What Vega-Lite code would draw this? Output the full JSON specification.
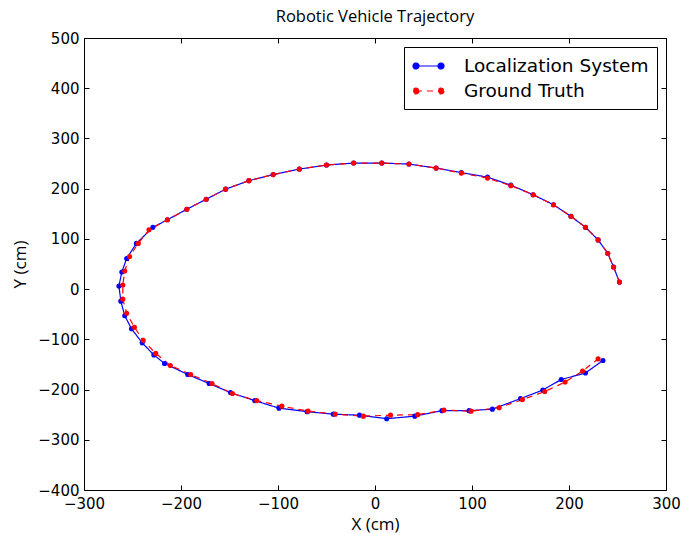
{
  "$schema": "https://vega.github.io/schema/vega-lite/v6.json",
  "autosize": "none",
  "width": 582,
  "height": 452,
  "padding": {"left": 84, "top": 38, "right": 15, "bottom": 43},
  "background": "white",
  "title": {"text": "Robotic Vehicle Trajectory", "font": "Open Sans", "fontSize": 16.5, "fontWeight": "normal", "color": "black", "offset": 6},
  "data": {"values": [
    {"series":"Localization System","i":1,"x":252,"y":14},
    {"series":"Localization System","i":2,"x":246,"y":44},
    {"series":"Localization System","i":3,"x":240,"y":71},
    {"series":"Localization System","i":4,"x":230,"y":98},
    {"series":"Localization System","i":5,"x":217,"y":123},
    {"series":"Localization System","i":6,"x":202,"y":145},
    {"series":"Localization System","i":7,"x":184,"y":168},
    {"series":"Localization System","i":8,"x":163,"y":188},
    {"series":"Localization System","i":9,"x":140,"y":207},
    {"series":"Localization System","i":10,"x":116,"y":223},
    {"series":"Localization System","i":11,"x":89,"y":232},
    {"series":"Localization System","i":12,"x":63,"y":241},
    {"series":"Localization System","i":13,"x":35,"y":249},
    {"series":"Localization System","i":14,"x":7,"y":251},
    {"series":"Localization System","i":15,"x":-22,"y":251},
    {"series":"Localization System","i":16,"x":-50,"y":247},
    {"series":"Localization System","i":17,"x":-78,"y":239},
    {"series":"Localization System","i":18,"x":-105,"y":228},
    {"series":"Localization System","i":19,"x":-130,"y":216},
    {"series":"Localization System","i":20,"x":-154,"y":199},
    {"series":"Localization System","i":21,"x":-174,"y":179},
    {"series":"Localization System","i":22,"x":-194,"y":159},
    {"series":"Localization System","i":23,"x":-214,"y":138},
    {"series":"Localization System","i":24,"x":-229,"y":123},
    {"series":"Localization System","i":25,"x":-246,"y":91},
    {"series":"Localization System","i":26,"x":-256,"y":61},
    {"series":"Localization System","i":27,"x":-261,"y":34},
    {"series":"Localization System","i":28,"x":-264,"y":6},
    {"series":"Localization System","i":29,"x":-262,"y":-24},
    {"series":"Localization System","i":30,"x":-258,"y":-53},
    {"series":"Localization System","i":31,"x":-251,"y":-79},
    {"series":"Localization System","i":32,"x":-240,"y":-107},
    {"series":"Localization System","i":33,"x":-228,"y":-131},
    {"series":"Localization System","i":34,"x":-217,"y":-148},
    {"series":"Localization System","i":35,"x":-193,"y":-170},
    {"series":"Localization System","i":36,"x":-171,"y":-188},
    {"series":"Localization System","i":37,"x":-149,"y":-206},
    {"series":"Localization System","i":38,"x":-124,"y":-222},
    {"series":"Localization System","i":39,"x":-99,"y":-237},
    {"series":"Localization System","i":40,"x":-70,"y":-244},
    {"series":"Localization System","i":41,"x":-43,"y":-249},
    {"series":"Localization System","i":42,"x":-16,"y":-251},
    {"series":"Localization System","i":43,"x":12,"y":-258},
    {"series":"Localization System","i":44,"x":41,"y":-253},
    {"series":"Localization System","i":45,"x":69,"y":-242},
    {"series":"Localization System","i":46,"x":97,"y":-242},
    {"series":"Localization System","i":47,"x":121,"y":-239},
    {"series":"Localization System","i":48,"x":150,"y":-218},
    {"series":"Localization System","i":49,"x":173,"y":-201},
    {"series":"Localization System","i":50,"x":192,"y":-180},
    {"series":"Localization System","i":51,"x":217,"y":-167},
    {"series":"Localization System","i":52,"x":235,"y":-142},
    {"series":"Ground Truth","i":1,"x":252,"y":14},
    {"series":"Ground Truth","i":2,"x":246,"y":44},
    {"series":"Ground Truth","i":3,"x":240,"y":71},
    {"series":"Ground Truth","i":4,"x":230,"y":98},
    {"series":"Ground Truth","i":5,"x":217,"y":123},
    {"series":"Ground Truth","i":6,"x":202,"y":145},
    {"series":"Ground Truth","i":7,"x":184,"y":168},
    {"series":"Ground Truth","i":8,"x":163,"y":188},
    {"series":"Ground Truth","i":9,"x":140,"y":206},
    {"series":"Ground Truth","i":10,"x":116,"y":221},
    {"series":"Ground Truth","i":11,"x":89,"y":231},
    {"series":"Ground Truth","i":12,"x":63,"y":241},
    {"series":"Ground Truth","i":13,"x":35,"y":249},
    {"series":"Ground Truth","i":14,"x":7,"y":251},
    {"series":"Ground Truth","i":15,"x":-22,"y":251},
    {"series":"Ground Truth","i":16,"x":-50,"y":247},
    {"series":"Ground Truth","i":17,"x":-78,"y":239},
    {"series":"Ground Truth","i":18,"x":-105,"y":228},
    {"series":"Ground Truth","i":19,"x":-130,"y":216},
    {"series":"Ground Truth","i":20,"x":-154,"y":199},
    {"series":"Ground Truth","i":21,"x":-174,"y":179},
    {"series":"Ground Truth","i":22,"x":-194,"y":159},
    {"series":"Ground Truth","i":23,"x":-214,"y":138},
    {"series":"Ground Truth","i":24,"x":-233,"y":118},
    {"series":"Ground Truth","i":25,"x":-244,"y":91},
    {"series":"Ground Truth","i":26,"x":-253,"y":65},
    {"series":"Ground Truth","i":27,"x":-258,"y":36},
    {"series":"Ground Truth","i":28,"x":-260,"y":8},
    {"series":"Ground Truth","i":29,"x":-260,"y":-20},
    {"series":"Ground Truth","i":30,"x":-256,"y":-48},
    {"series":"Ground Truth","i":31,"x":-248,"y":-76},
    {"series":"Ground Truth","i":32,"x":-239,"y":-102},
    {"series":"Ground Truth","i":33,"x":-226,"y":-128},
    {"series":"Ground Truth","i":34,"x":-211,"y":-152},
    {"series":"Ground Truth","i":35,"x":-190,"y":-170},
    {"series":"Ground Truth","i":36,"x":-168,"y":-188},
    {"series":"Ground Truth","i":37,"x":-147,"y":-208},
    {"series":"Ground Truth","i":38,"x":-122,"y":-222},
    {"series":"Ground Truth","i":39,"x":-96,"y":-233},
    {"series":"Ground Truth","i":40,"x":-69,"y":-243},
    {"series":"Ground Truth","i":41,"x":-41,"y":-249},
    {"series":"Ground Truth","i":42,"x":-12,"y":-253},
    {"series":"Ground Truth","i":43,"x":16,"y":-251},
    {"series":"Ground Truth","i":44,"x":44,"y":-250},
    {"series":"Ground Truth","i":45,"x":71,"y":-241},
    {"series":"Ground Truth","i":46,"x":99,"y":-243},
    {"series":"Ground Truth","i":47,"x":128,"y":-236},
    {"series":"Ground Truth","i":48,"x":152,"y":-220},
    {"series":"Ground Truth","i":49,"x":175,"y":-204},
    {"series":"Ground Truth","i":50,"x":196,"y":-185},
    {"series":"Ground Truth","i":51,"x":214,"y":-163},
    {"series":"Ground Truth","i":52,"x":230,"y":-139}
  ]},
  "layer": [
    {
      "mark": {"type": "line", "strokeWidth": 1.2},
      "encoding": {
        "x": {"field": "x", "type": "quantitative", "scale": {"domain": [-300, 300], "nice": false, "zero": false},
              "axis": {"title": "X (cm)", "values": [-300,-200,-100,0,100,200,300], "tickSize": -5, "labelPadding": 11, "titlePadding": 5, "domain": false, "labelFlush": false}},
        "y": {"field": "y", "type": "quantitative", "scale": {"domain": [-400, 500], "nice": false, "zero": false},
              "axis": {"title": "Y (cm)", "values": [-400,-300,-200,-100,0,100,200,300,400,500], "tickSize": -5, "labelPadding": 10, "titlePadding": 8, "domain": false, "labelFlush": false}},
        "color": {"field": "series", "type": "nominal",
                  "scale": {"domain": ["Localization System", "Ground Truth"], "range": ["#0000ff", "#ff0000"]},
                  "legend": {"title": null, "orient": "top-right", "offset": 9,
                             "symbolType": "M-0.7,0L1.8,0M-0.4,0A0.3,0.3 0 1,1 -1,0A0.3,0.3 0 1,1 -0.4,0ZM2.1,0A0.3,0.3 0 1,1 1.5,0A0.3,0.3 0 1,1 2.1,0Z",
                             "symbolSize": 400, "symbolStrokeWidth": 1.2,
                             "labelFont": "DejaVu Sans", "labelFontSize": 18.5, "labelColor": "black", "labelOffset": 30,
                             "strokeColor": "black", "fillColor": "white", "padding": 8, "rowPadding": 4,
                             "labelLimit": 400,
                             "encode": {"symbols": {"update": {"fill": {"scale": "color", "field": "value"}, "stroke": {"scale": "color", "field": "value"}}}}}},
        "strokeDash": {"field": "series", "type": "nominal",
                       "scale": {"domain": ["Localization System", "Ground Truth"], "range": [[1, 0], [6, 5]]},
                       "legend": null},
        "order": {"field": "i", "type": "quantitative"}
      }
    },
    {
      "mark": {"type": "point", "filled": true, "size": 26, "opacity": 1},
      "encoding": {
        "x": {"field": "x", "type": "quantitative", "axis": null},
        "y": {"field": "y", "type": "quantitative", "axis": null},
        "color": {"field": "series", "type": "nominal", "legend": null}
      }
    },
    {
      "mark": {"type": "point", "opacity": 0},
      "encoding": {
        "x": {"field": "x", "type": "quantitative", "axis": {"orient": "top", "labels": false, "title": null, "values": [-300,-200,-100,0,100,200,300], "tickSize": -5, "domain": false}},
        "y": {"field": "y", "type": "quantitative", "axis": {"orient": "right", "labels": false, "title": null, "values": [-400,-300,-200,-100,0,100,200,300,400,500], "tickSize": -5, "domain": false}}
      }
    }
  ],
  "resolve": {"axis": {"x": "independent", "y": "independent"}},
  "config": {
    "view": {"stroke": "black", "strokeWidth": 1},
    "axis": {"grid": false, "tickColor": "black", "domainColor": "black", "labelFont": "DejaVu Sans", "labelFontSize": 15, "labelColor": "black",
             "titleFont": "Open Sans", "titleFontSize": 17, "titleFontWeight": "normal", "titleColor": "black"}
  }
}
